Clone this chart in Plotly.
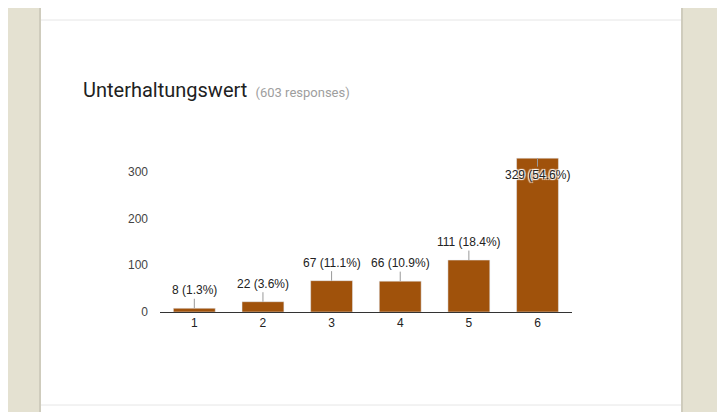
import plotly.graph_objects as go

# Survey answers for "Unterhaltungswert"
categories = ["1", "2", "3", "4", "5", "6"]
counts = [8, 22, 67, 66, 111, 329]
percents = ["1.3%", "3.6%", "11.1%", "10.9%", "18.4%", "54.6%"]
total = 603

bar_color = "#a0520b"

fig = go.Figure(go.Bar(x=categories, y=counts, marker_color=bar_color,
                       hoverinfo="skip"))

# pixel helpers (reference pixels) for the plot area x 160..572, y 153..312
def px_x(p):
    return (p - 160) / 412.0

def px_y(p):
    return (312 - p) / 159.0

# labels with a little leader line, the tallest one sits inside the bar
annotations = []
for i, (n, pct) in enumerate(zip(counts, percents)):
    inside = n == max(counts)
    annotations.append(dict(
        x=i, y=n, xref="x", yref="y",
        text=f"{n} ({pct})",
        showarrow=True, arrowhead=0, arrowwidth=1, arrowcolor="#999999",
        ax=0, ay=17 if inside else -18,
        font=dict(family="Arial", size=12, color="#222222",
                  shadow="1px 1px 1px white, -1px -1px 1px white, 1px -1px 1px white, -1px 1px 1px white" if inside else "none"),
    ))

# card background and divider lines
shapes = [
    dict(type="rect", xref="paper", yref="paper", layer="below",
         x0=px_x(39), x1=px_x(683), y0=px_y(-20), y1=px_y(430),
         fillcolor="#cfccbd", line_width=0),
    dict(type="rect", xref="paper", yref="paper", layer="below",
         x0=px_x(41), x1=px_x(681), y0=px_y(-20), y1=px_y(430),
         fillcolor="white", line_width=0),
    dict(type="line", xref="paper", yref="paper",
         x0=px_x(41), x1=px_x(681), y0=px_y(20), y1=px_y(20),
         line=dict(color="#e6e6e6", width=1)),
    dict(type="line", xref="paper", yref="paper",
         x0=px_x(41), x1=px_x(681), y0=px_y(405), y1=px_y(405),
         line=dict(color="#e6e6e6", width=1)),
]

fig.update_layout(
    width=717, height=404,
    margin=dict(l=152, r=153, t=145, b=100),
    paper_bgcolor="#e4e1d1",
    plot_bgcolor="white",
    showlegend=False,
    bargap=0.39,
    title=dict(
        text=f"Unterhaltungswert <span style='font-size:13px;color:#9e9e9e'>&nbsp;({total} responses)</span>",
        font=dict(family="Roboto", size=20, color="#212121"),
        x=75 / 717, xanchor="left", xref="container",
        y=1 - 82 / 404, yanchor="middle", yref="container",
    ),
    xaxis=dict(type="category", showgrid=False, showline=True,
               linecolor="#333333", linewidth=1, ticks="",
               tickfont=dict(family="Arial", size=12, color="#222222")),
    yaxis=dict(range=[0, 340], tickvals=[0, 100, 200, 300], showgrid=False,
               zeroline=False, showline=False, ticks="", ticklen=0,
               ticklabelstandoff=11,
               tickfont=dict(family="Arial", size=12, color="#444444")),
    annotations=annotations,
    shapes=shapes,
)

fig.write_html("out.html")
